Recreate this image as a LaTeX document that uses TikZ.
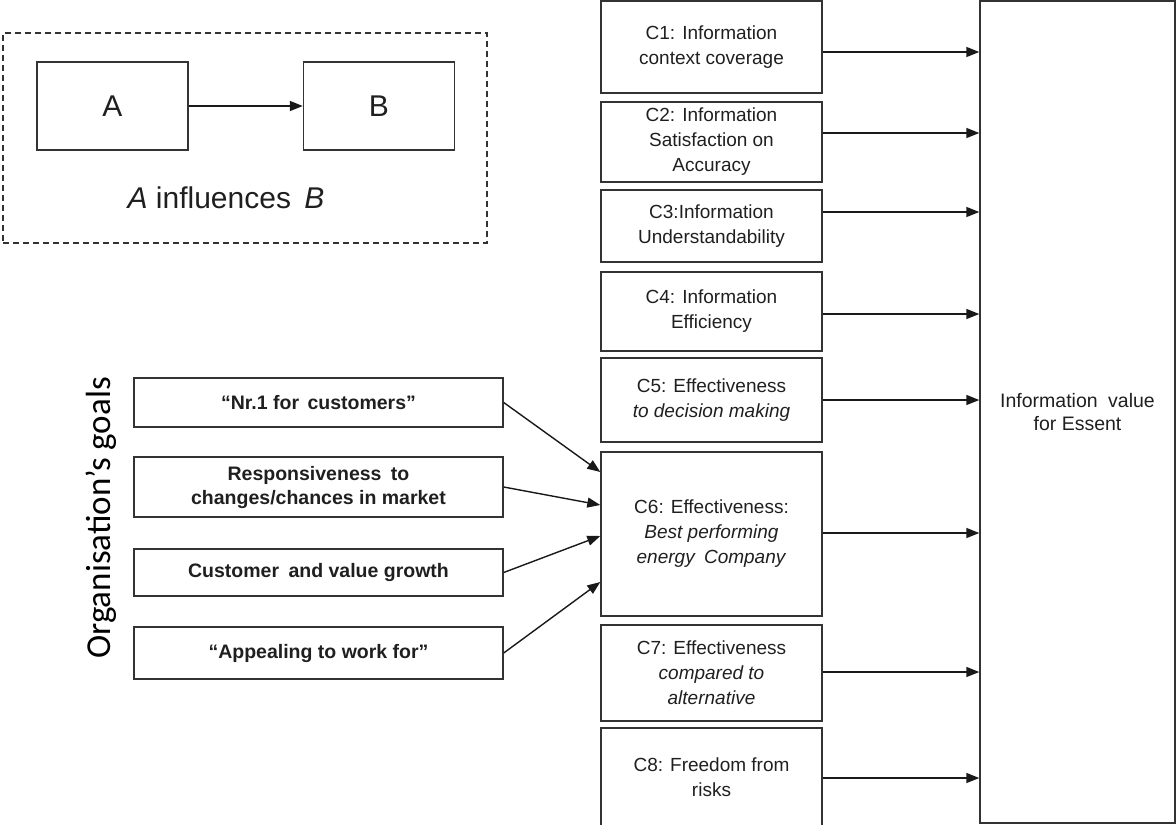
\documentclass[tikz,border=0pt]{standalone}
\usepackage{fontspec}
\setmainfont{Liberation Sans}
\newfontfamily\calibrifont{Carlito}
\usetikzlibrary{arrows.meta}
\begin{document}
\begin{tikzpicture}[x=1pt,y=-1pt,
  box/.style={draw=black!80, line width=1.4pt, inner sep=0pt, align=center, text=black!88},
  cbox/.style={box, minimum width=221pt, font=\fontsize{19}{25}\selectfont},
  gbox/.style={box, minimum width=369pt, font=\fontsize{19.5}{24}\selectfont\bfseries},
  abbox/.style={box, minimum width=151pt, minimum height=88pt, font=\fontsize{30}{36}\selectfont},
  arr/.style={draw=black!90, line width=1.4pt, -{Triangle[length=13pt,width=10pt]}},
]
\useasboundingbox (0,0) rectangle (1176,825);

% legend
\node[draw=black!80, line width=1.3pt, dash pattern=on 6pt off 4pt,
      minimum width=484pt, minimum height=210pt, inner sep=0pt] (legend) at (245,138) {};
\node[abbox] (a) at (112.5,106) {A};
\node[abbox] (b) at (379,106) {B};
\node[anchor=base, font=\fontsize{30}{36}\selectfont, text=black!88] (cap) at (226,208)
  {\textit{A} influences\hspace{5pt} \textit{B}};
\draw[arr] (a.east) -- (b.west);

% criteria column
\node[cbox, minimum height=92pt] (c1) at (711.5,47) {C1: Information\\context coverage};
\node[cbox, minimum height=80pt] (c2) at (711.5,142) {C2: Information\\Satisfaction on\\Accuracy};
\node[cbox, minimum height=72pt] (c3) at (711.5,226) {C3:Information\\Understandability};
\node[cbox, minimum height=79pt] (c4) at (711.5,311.5) {C4: Information\\Efficiency};
\node[cbox, minimum height=84pt] (c5) at (711.5,400) {C5: Effectiveness\\\textit{to decision making}};
\node[cbox, minimum height=164pt] (c6) at (711.5,534) {C6: Effectiveness:\\\textit{Best performing}\\\textit{energy\hspace{4pt} Company}};
\node[cbox, minimum height=96pt] (c7) at (711.5,673) {C7: Effectiveness\\\textit{compared to}\\\textit{alternative}};
\node[cbox, minimum height=99pt] (c8) at (711.5,777.5) {C8: Freedom from\\risks};

% overall value
\node[box, minimum width=195pt, minimum height=822pt, font=\fontsize{19.5}{23}\selectfont] (iv)
  at (1077.5,412) {Information\hspace{5pt} value\\for Essent};

\draw[arr] ([yshift=-5pt]c1.east) -- ([yshift=-5pt]c1.east -| iv.west);
\draw[arr] ([yshift=9pt]c2.east) -- ([yshift=9pt]c2.east -| iv.west);
\draw[arr] ([yshift=14pt]c3.east) -- ([yshift=14pt]c3.east -| iv.west);
\draw[arr] ([yshift=-2.5pt]c4.east) -- ([yshift=-2.5pt]c4.east -| iv.west);
\draw[arr] (c5.east) -- (c5.east -| iv.west);
\draw[arr] ([yshift=1pt]c6.east) -- ([yshift=1pt]c6.east -| iv.west);
\draw[arr] ([yshift=1pt]c7.east) -- ([yshift=1pt]c7.east -| iv.west);
\draw[arr] ([yshift=-0.5pt]c8.east) -- ([yshift=-0.5pt]c8.east -| iv.west);

% organisation goals
\node[rotate=90, anchor=base, font=\calibrifont\fontsize{35}{40}\selectfont, text=black] (og)
  at (110,518) {Organisation’s goals};
\node[gbox, minimum height=49pt] (g1) at (318.5,402.5) {“Nr.1 for\hspace{3pt} customers”};
\node[gbox, minimum height=60pt] (g2) at (318.5,487) {Responsiveness\hspace{4pt} to\\changes/chances in market};
\node[gbox, minimum height=47pt] (g3) at (318.5,572.5) {Customer\hspace{4pt} and value growth};
\node[gbox, minimum height=52pt] (g4) at (318.5,653) {“Appealing to work for”};

\draw[arr] (g1.east) -- ([yshift=62pt]c6.west);
\draw[arr] (g2.east) -- ([yshift=29pt]c6.west);
\draw[arr] (g3.east) -- ([yshift=-2pt]c6.west);
\draw[arr] (g4.east) -- ([yshift=-48pt]c6.west);
\end{tikzpicture}
\end{document}
